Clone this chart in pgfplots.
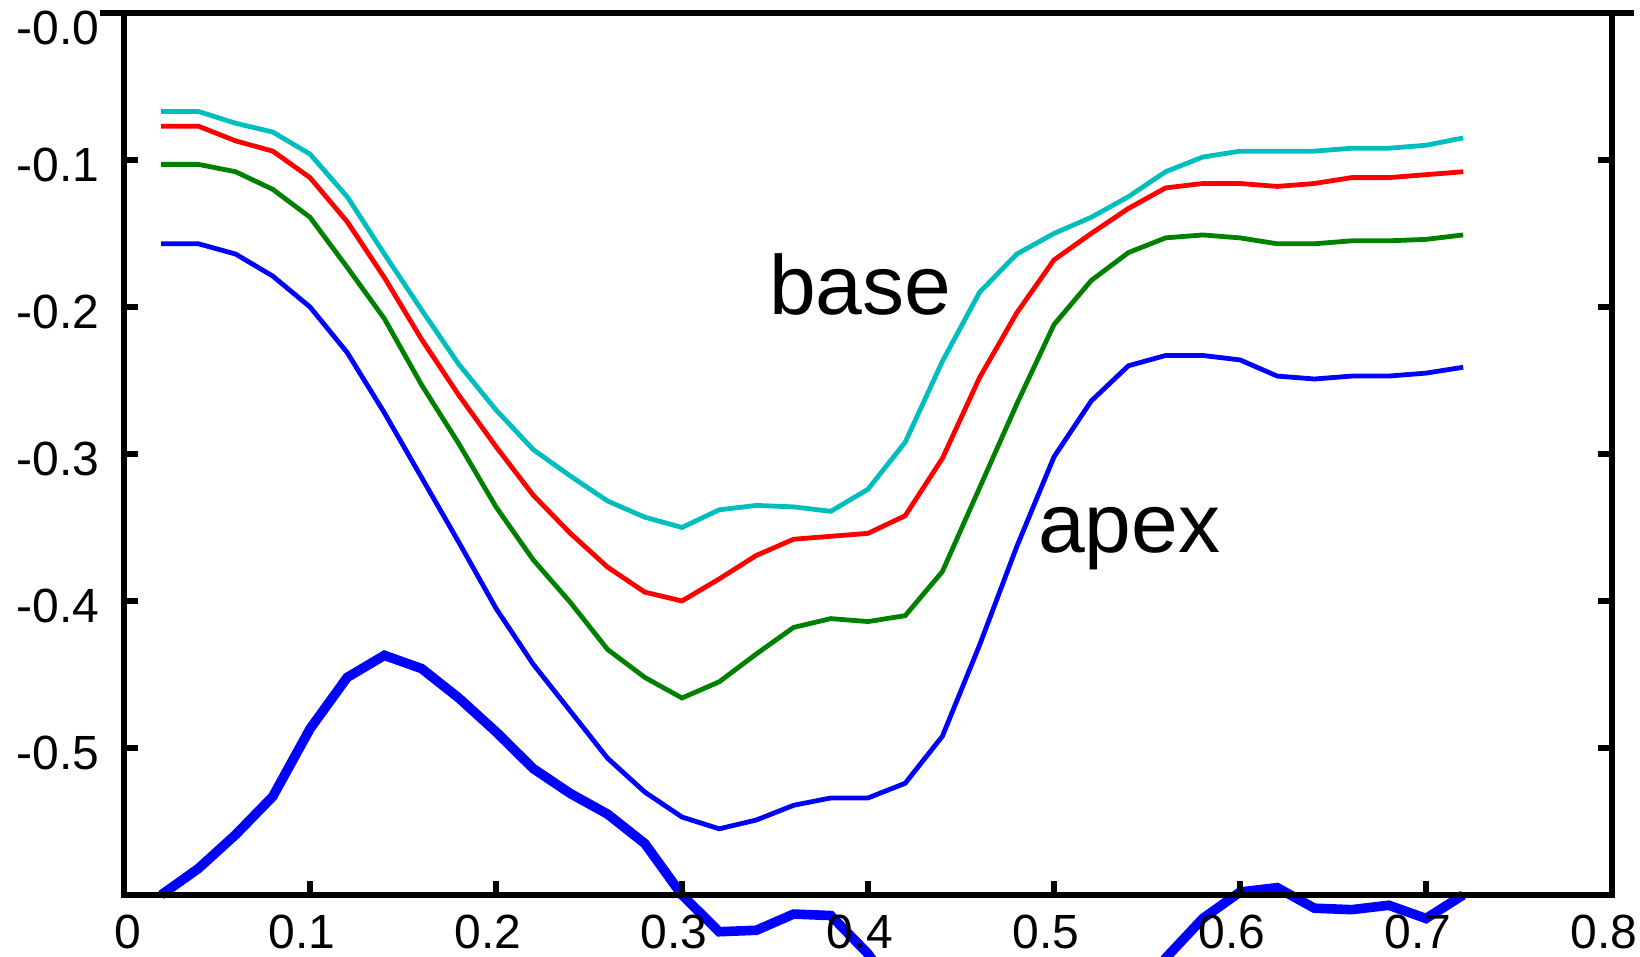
\documentclass[border=0pt]{standalone}
\usepackage{fontspec}
\setmainfont{Liberation Sans}
\usepackage{pgfplots}
\pgfplotsset{compat=1.18}
\usepackage{pgfplotstable}

\definecolor{ccyan}{RGB}{0,190,190}
\definecolor{cgreen}{RGB}{0,128,0}

% x  cyan  red  green  blue  thick
\pgfplotstableread{
x     cy      rd      gr      bl      tk
0.02 -0.067 -0.077 -0.103 -0.157 -0.600
0.04 -0.067 -0.077 -0.103 -0.157 -0.582
0.06 -0.075 -0.087 -0.108 -0.164 -0.559
0.08 -0.081 -0.094 -0.120 -0.179 -0.533
0.10 -0.096 -0.112 -0.139 -0.200 -0.487
0.12 -0.125 -0.142 -0.173 -0.231 -0.452
0.14 -0.164 -0.180 -0.208 -0.272 -0.437
0.16 -0.202 -0.222 -0.253 -0.316 -0.446
0.18 -0.239 -0.260 -0.293 -0.360 -0.466
0.20 -0.270 -0.295 -0.336 -0.405 -0.489
0.22 -0.297 -0.328 -0.372 -0.443 -0.514
0.24 -0.315 -0.354 -0.401 -0.475 -0.531
0.26 -0.332 -0.377 -0.433 -0.507 -0.545
0.28 -0.343 -0.394 -0.452 -0.530 -0.565
0.30 -0.350 -0.400 -0.466 -0.547 -0.600
0.32 -0.338 -0.385 -0.455 -0.555 -0.625
0.34 -0.335 -0.369 -0.436 -0.549 -0.624
0.36 -0.336 -0.358 -0.418 -0.539 -0.613
0.38 -0.339 -0.356 -0.412 -0.534 -0.614
0.40 -0.324 -0.354 -0.414 -0.534 -0.640
0.42 -0.292 -0.342 -0.410 -0.524 -0.675
0.44 -0.237 -0.303 -0.380 -0.492 -0.705
0.46 -0.190 -0.248 -0.323 -0.430 -0.725
0.48 -0.164 -0.204 -0.266 -0.363 -0.735
0.50 -0.150 -0.168 -0.212 -0.302 -0.730
0.52 -0.139 -0.150 -0.182 -0.264 -0.710
0.54 -0.125 -0.133 -0.163 -0.240 -0.680
0.56 -0.108 -0.119 -0.153 -0.233 -0.643
0.58 -0.098 -0.116 -0.151 -0.233 -0.616
0.60 -0.094 -0.116 -0.153 -0.236 -0.598
0.62 -0.094 -0.118 -0.157 -0.247 -0.595
0.64 -0.094 -0.116 -0.157 -0.249 -0.609
0.66 -0.092 -0.112 -0.155 -0.247 -0.610
0.68 -0.092 -0.112 -0.155 -0.247 -0.607
0.70 -0.090 -0.110 -0.154 -0.245 -0.616
0.72 -0.085 -0.108 -0.151 -0.241 -0.600
}\data

\begin{document}
\begin{tikzpicture}
\begin{axis}[
    scale only axis,
    width=372pt, height=220.5pt,
    xmin=0, xmax=0.8, ymin=-0.6, ymax=0,
    clip=false,
    axis on top,
    axis line style={line width=1.5pt},
    major tick style={line width=1.4pt, black},
    major tick length=3.5pt,
    tick align=inside,
    xtick={0,0.1,...,0.8},
    xticklabels={{\hspace*{6pt}0},0.1,0.2,0.3,0.4,0.5,0.6,0.7,0.8},
    ytick={-0.5,-0.4,-0.3,-0.2,-0.1,0},
    yticklabels={-0.5,-0.4,-0.3,-0.2,-0.1,{\raisebox{-2.6pt}[\height][\depth]{-0.0}}},
    xtick pos=bottom,
    ytick pos=both,
    yticklabel pos=left,
    ticklabel style={font=\fontsize{12}{14}\selectfont},
    yticklabel style={anchor=east, inner sep=0pt, xshift=-6pt, yshift=-1.2pt},
    xticklabel style={anchor=north, inner sep=0pt, yshift=-4.8pt, xshift=-2pt},
]
\addplot[cgreen, line width=1.2pt] coordinates {(0.02,-0.6) (0.72,-0.6)};
\addplot[ccyan, line width=1.2pt] table[x=x, y=cy] {\data};
\addplot[red, line width=1.2pt] table[x=x, y=rd] {\data};
\addplot[cgreen, line width=1.2pt] table[x=x, y=gr] {\data};
\addplot[blue, line width=1.2pt] table[x=x, y=bl] {\data};
\addplot[blue, line width=2.4pt] table[x=x, y=tk] {\data};

\node[anchor=base west, inner sep=0pt, font=\fontsize{21}{25}\selectfont] at (axis cs:0.3465,-0.2053) {base};
\node[anchor=base west, inner sep=0pt, font=\fontsize{21}{25}\selectfont] at (axis cs:0.491,-0.367) {apex};

\draw[line width=1.5pt] ([xshift=-6pt]rel axis cs:0,1) -- ([xshift=5.5pt]rel axis cs:1,1);
\coordinate (ll) at (rel axis cs:0,0);
\coordinate (ur) at (rel axis cs:1,1);
\end{axis}
\pgfresetboundingbox
\path[use as bounding box] ([xshift=-31pt,yshift=-15.5pt]ll) rectangle ([xshift=7pt,yshift=3.25pt]ur);
\end{tikzpicture}
\end{document}
